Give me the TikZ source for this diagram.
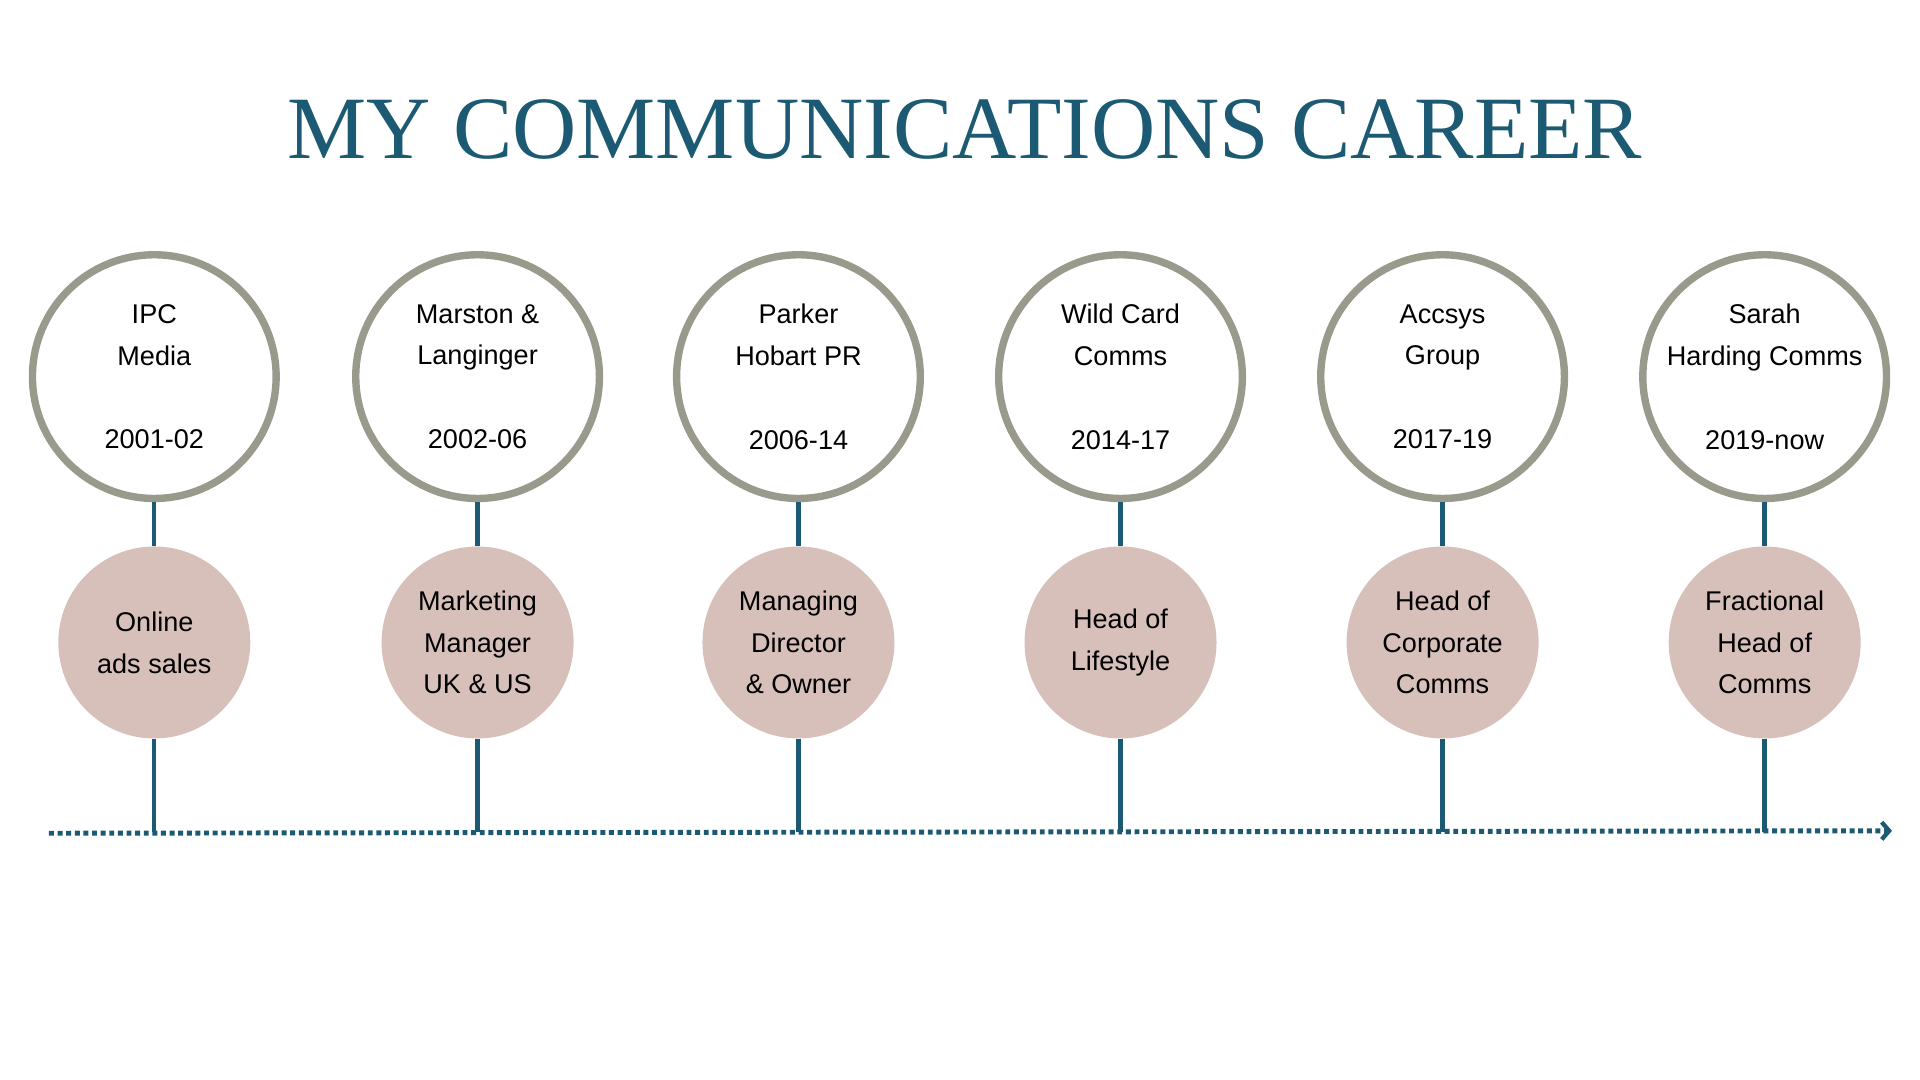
\documentclass[tikz,border=0pt]{standalone}
\usepackage{fontspec}
\setmainfont{Liberation Sans}
\newfontfamily\titlefont{Liberation Serif}
\usetikzlibrary{arrows.meta}
\definecolor{teal}{HTML}{1B5A72}
\definecolor{ring}{HTML}{999A8C}
\definecolor{pinkc}{HTML}{D8C0BA}
\begin{document}
\begin{tikzpicture}[x=1pt,y=-1pt,
  outer/.style={circle,draw=ring,line width=6pt,fill=white,minimum size=198pt,inner sep=0pt},
  inner/.style={circle,fill=pinkc,minimum size=156pt,inner sep=0pt,align=center,font=\fontsize{22}{34}\selectfont},
  otext/.style={align=center,font=\fontsize{22}{34}\selectfont},
  stem/.style={draw=teal,line width=3.5pt}]
\useasboundingbox (0,0) rectangle (1560,877.5);
\begin{scope}[xscale=0.995]
\node (title) at (788,105) {\resizebox{1100pt}{!}{\titlefont\color{teal}MY COMMUNICATIONS CAREER}};
\coordinate (axL) at (40,677);
\coordinate (axR) at (1545,675);
\draw[teal,line width=4pt,line cap=butt,dash pattern=on 4pt off 3pt,-{Straight Barb[length=6pt,width=14pt,line width=3.5pt]}] (axL) -- (axR);
\foreach \i/\x/\a/\b/\c/\d/\e/\f in {
 1/126/IPC/Media/2001-02/Online/ads sales/,
 2/390/Marston \&/Langinger/2002-06/Marketing/Manager/UK \& US,
 3/652/Parker/Hobart PR/2006-14/Managing/Director/\& Owner,
 4/915/Wild Card/Comms/2014-17/Head of/Lifestyle/,
 5/1178/Accsys/Group/2017-19/Head of/Corporate/Comms,
 6/1441/Sarah/Harding Comms/2019-now/Fractional/Head of/Comms}{
  \node[outer] (o\i) at (\x,306) {};
  \node[otext] (t\i) at (\x,306) {\a\\\b\\[34pt]\c};
  \node[inner] (p\i) at (\x,522) {\ifx\f\empty\d\\\e\else\d\\\e\\\f\fi};
  \coordinate (b\i) at (\x,676);
  \draw[stem] (o\i.south) -- (p\i.north);
  \draw[stem] (p\i.south) -- (b\i);
}
\end{scope}
\end{tikzpicture}
\end{document}
